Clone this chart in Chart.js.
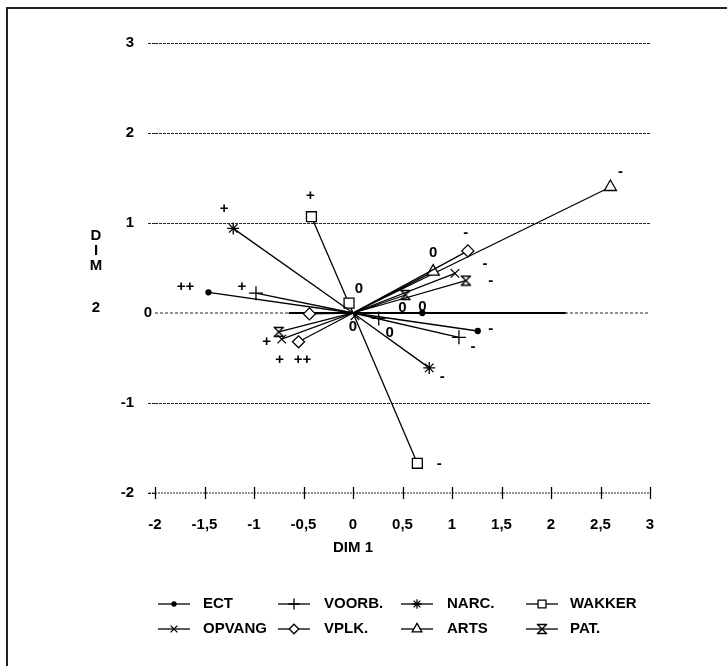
<!DOCTYPE html>
<html>
<head>
<meta charset="utf-8">
<script src="https://cdn.jsdelivr.net/npm/chart.js@4"></script>
<style>
  html, body { margin: 0; padding: 0; background: #fff; }
  #wrap { position: relative; width: 727px; height: 666px; }
</style>
</head>
<body>
<div id="wrap"><canvas id="c" width="727" height="666"></canvas></div>
<script>
// Category quantifications (DIM 1, DIM 2) per variable
const variables = ['ECT', 'VOORB.', 'NARC.', 'WAKKER', 'OPVANG', 'VPLK.', 'ARTS', 'PAT.'];

const ectCats = ['++', '0', '-'];
const ectX = [-1.46, 0.70, 1.26];
const ectY = [0.23, 0.00, -0.20];

const voorbCats = ['+', '0', '-'];
const voorbX = [-0.98, 0.26, 1.07];
const voorbY = [0.22, -0.06, -0.27];

const narcCats = ['+', '-'];
const narcX = [-1.21, 0.77];
const narcY = [0.94, -0.61];

const wakkerCats = ['+', '0', '-'];
const wakkerX = [-0.42, -0.04, 0.65];
const wakkerY = [1.07, 0.11, -1.67];

const opvangCats = ['+', '0', '-'];
const opvangX = [-0.72, 0.02, 1.03];
const opvangY = [-0.29, -0.03, 0.44];

const vplkCats = ['++', '', '-'];
const vplkX = [-0.55, -0.44, 1.16];
const vplkY = [-0.32, -0.01, 0.69];

const artsCats = ['0', '-'];
const artsX = [0.81, 2.60];
const artsY = [0.46, 1.40];

const patCats = ['+', '0', '-'];
const patX = [-0.75, 0.53, 1.14];
const patY = [-0.21, 0.20, 0.36];

// Axis ticks
const xTicks = [-2, -1.5, -1, -0.5, 0, 0.5, 1, 1.5, 2, 2.5, 3];
const yTicks = [-2, -1, 0, 1, 2, 3];

// stretch of the zero line that is printed solid (DIM 1 units)
const zeroSolidSpan = [-0.65, 2.15];

// Label placement next to each category marker (pixels)
const labelNudge = [
  [[-23, -5], [0, -6], [13, -2]],
  [[-14, -6], [11, 14], [14, 10]],
  [[-9, -20], [13, 9]],
  [[-1, -21], [10, -14], [22, 1]],
  [[-15, 3], [-2, 11], [30, -10]],
  [[4, 18], [0, 0], [-2, -18]],
  [[0, -19], [10, -15]],
  [[1, 28], [-3, 13], [25, 0]]
];

// hourglass marker for PAT.
function hourglass(size) {
  const c = document.createElement('canvas');
  c.width = size; c.height = size;
  const g = c.getContext('2d');
  g.strokeStyle = '#000'; g.lineWidth = 1.4;
  const a = 1, b = size - 1;
  g.beginPath();
  g.moveTo(a, a + 0.5); g.lineTo(b, a + 0.5);
  g.moveTo(a, b - 0.5); g.lineTo(b, b - 0.5);
  g.moveTo(a, a); g.lineTo(b, b);
  g.moveTo(b, a); g.lineTo(a, b);
  g.stroke();
  return c;
}

const markerStyles = [
  { pointStyle: 'circle', radius: 2.5, fill: '#000' },
  { pointStyle: 'cross', radius: 7, fill: '#fff' },
  { pointStyle: 'star', radius: 6, fill: '#fff' },
  { pointStyle: 'rect', radius: 7, fill: '#fff' },
  { pointStyle: 'crossRot', radius: 6, fill: '#fff' },
  { pointStyle: 'rectRot', radius: 6, fill: '#fff' },
  { pointStyle: 'triangle', radius: 7, fill: '#fff' },
  { pointStyle: hourglass(12), radius: 6, fill: '#fff' }
];

const series = [
  [ectCats, ectX, ectY],
  [voorbCats, voorbX, voorbY],
  [narcCats, narcX, narcY],
  [wakkerCats, wakkerX, wakkerY],
  [opvangCats, opvangX, opvangY],
  [vplkCats, vplkX, vplkY],
  [artsCats, artsX, artsY],
  [patCats, patX, patY]
];

// each category is joined to the origin: p1, O, p2, O, p3 ...
function starPath(cats, xs, ys) {
  const pts = [];
  cats.forEach((c, i) => {
    if (i > 0) pts.push({ x: 0, y: 0, cat: null });
    pts.push({ x: xs[i], y: ys[i], cat: c, idx: i });
  });
  return pts;
}

const datasets = series.map((s, k) => ({
  label: variables[k],
  data: starPath(s[0], s[1], s[2]),
  showLine: true,
  borderColor: '#000',
  borderWidth: 1.3,
  pointStyle: markerStyles[k].pointStyle,
  pointRadius: ctx => (ctx.raw && ctx.raw.cat !== null ? markerStyles[k].radius : 0),
  pointBorderColor: '#000',
  pointBorderWidth: 1.3,
  pointBackgroundColor: markerStyles[k].fill,
  clip: false
}));

const FONT = '"Liberation Sans", Arial, sans-serif';
const fmt = v => String(v).replace('.', ',');

const decor = {
  id: 'decor',
  beforeDatasetsDraw(chart) {
    const { ctx, scales: { x, y } } = chart;
    ctx.save();
    // zero baseline: dotted across, solid through the middle
    const y0 = y.getPixelForValue(0);
    ctx.strokeStyle = '#222';
    ctx.lineWidth = 1;
    ctx.setLineDash([3, 2]);
    ctx.beginPath();
    ctx.moveTo(x.getPixelForValue(-2), y0);
    ctx.lineTo(x.getPixelForValue(3), y0);
    ctx.stroke();
    ctx.setLineDash([]);
    ctx.strokeStyle = '#000';
    ctx.lineWidth = 2.2;
    ctx.beginPath();
    ctx.moveTo(x.getPixelForValue(zeroSolidSpan[0]), y0);
    ctx.lineTo(x.getPixelForValue(zeroSolidSpan[1]), y0);
    ctx.stroke();
    // bottom axis with crossing tick marks
    const yb = y.getPixelForValue(-2);
    ctx.lineWidth = 1;
    ctx.setLineDash([2, 1]);
    ctx.strokeStyle = '#222';
    ctx.beginPath();
    ctx.moveTo(x.getPixelForValue(-2) - 6, yb);
    ctx.lineTo(x.getPixelForValue(3), yb);
    ctx.stroke();
    ctx.setLineDash([]);
    ctx.strokeStyle = '#000';
    ctx.lineWidth = 1.3;
    xTicks.forEach(v => {
      const px = Math.round(x.getPixelForValue(v)) + 0.5;
      ctx.beginPath();
      ctx.moveTo(px, yb - 6);
      ctx.lineTo(px, yb + 6);
      ctx.stroke();
    });
    ctx.restore();
  },
  afterDatasetsDraw(chart) {
    const { ctx } = chart;
    ctx.save();
    ctx.fillStyle = '#000';
    ctx.font = 'bold 15px ' + FONT;
    ctx.textAlign = 'center';
    ctx.textBaseline = 'middle';
    chart.data.datasets.forEach((ds, k) => {
      const meta = chart.getDatasetMeta(k);
      ds.data.forEach((p, i) => {
        if (p.cat === null || !p.cat) return;
        const el = meta.data[i];
        const n = labelNudge[k][p.idx];
        ctx.fillText(p.cat, el.x + n[0], el.y + n[1]);
      });
    });
    ctx.restore();
  },
  afterDraw(chart) {
    const { ctx, scales: { x, y } } = chart;
    ctx.save();
    // frame
    ctx.strokeStyle = '#222';
    ctx.lineWidth = 2;
    ctx.beginPath();
    ctx.moveTo(7, 666);
    ctx.lineTo(7, 8);
    ctx.lineTo(727, 8);
    ctx.stroke();
    ctx.fillStyle = '#000';
    ctx.font = 'bold 15px ' + FONT;
    ctx.textAlign = 'center';
    ctx.textBaseline = 'middle';
    const y0 = y.getPixelForValue(0);
    // zero tick label sits against the start of the zero line
    ctx.fillText('0', x.getPixelForValue(-2) - 7, y0);
    // vertical axis title
    ['D', 'I', 'M'].forEach((ch, i) => ctx.fillText(ch, 96, y0 - 77 + i * 15));
    ctx.fillText('2', 96, y0 - 5);
    // horizontal axis title
    ctx.fillText('DIM 1', x.getPixelForValue(0), y.getPixelForValue(-2) + 55);
    // legend
    const colX = [158, 278, 401, 526];
    const textX = [203, 324, 447, 570];
    const rowY = [604, 629];
    chart.data.datasets.forEach((ds, k) => {
      const c = k % 4, r = Math.floor(k / 4);
      const x0 = colX[c], yy = rowY[r];
      ctx.strokeStyle = '#000';
      ctx.lineWidth = 1.3;
      ctx.beginPath();
      ctx.moveTo(x0, yy);
      ctx.lineTo(x0 + 32, yy);
      ctx.stroke();
      ctx.fillStyle = markerStyles[k].fill;
      Chart.helpers.drawPoint(ctx, {
        pointStyle: markerStyles[k].pointStyle,
        radius: k === 0 ? 2 : markerStyles[k].radius * 0.8,
        borderWidth: 1.3,
        rotation: 0
      }, x0 + 16, yy);
      ctx.fillStyle = '#000';
      ctx.textAlign = 'left';
      ctx.fillText(ds.label, textX[c], yy);
    });
    ctx.restore();
  }
};

new Chart(document.getElementById('c'), {
  type: 'scatter',
  data: { datasets },
  options: {
    responsive: false,
    animation: false,
    events: [],
    layout: { padding: { left: 0, right: 77, top: 43, bottom: 0 } },
    plugins: { legend: { display: false }, tooltip: { enabled: false } },
    scales: {
      x: {
        type: 'linear',
        min: -2, max: 3,
        afterBuildTicks: s => { s.ticks = xTicks.map(v => ({ value: v })); },
        afterFit: s => { s.height = 173; },
        grid: { display: false },
        border: { display: false },
        ticks: {
          color: '#000',
          padding: 15,
          font: { family: FONT, size: 15, weight: 'bold' },
          maxRotation: 0,
          autoSkip: false,
          callback: v => fmt(v)
        }
      },
      y: {
        type: 'linear',
        min: -2, max: 3,
        afterBuildTicks: s => { s.ticks = yTicks.map(v => ({ value: v })); },
        afterFit: s => { s.width = 155; },
        grid: {
          color: ctx => (ctx.tick && (ctx.tick.value === -2 || ctx.tick.value === 0) ? 'rgba(0,0,0,0)' : '#222'),
          lineWidth: 1,
          drawTicks: true,
          tickLength: 7,
          tickColor: ctx => (ctx.tick && ctx.tick.value === 0 ? 'rgba(0,0,0,0)' : (ctx.tick && ctx.tick.value === -2 ? '#000' : '#222')),
          tickBorderDash: [3, 1]
        },
        border: { display: false, dash: [3, 1] },
        ticks: {
          color: '#000',
          padding: 14,
          font: { family: FONT, size: 15, weight: 'bold' },
          callback: v => (v === 0 ? '' : fmt(v))
        }
      }
    }
  },
  plugins: [decor]
});
</script>
</body>
</html>
